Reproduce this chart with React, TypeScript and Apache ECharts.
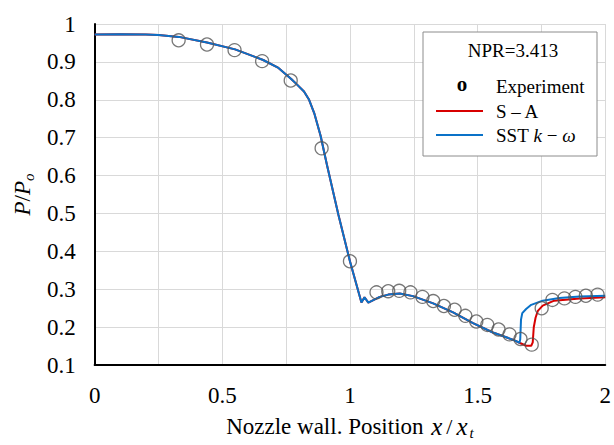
import React, { useEffect, useRef } from "react";
import * as echarts from "echarts";

// Experimental data (circles)
const expX = [0.329, 0.44, 0.548, 0.656, 0.768, 0.889, 1.0, 1.104, 1.15, 1.193, 1.237, 1.284, 1.326, 1.368, 1.41, 1.452, 1.495, 1.538, 1.582, 1.625, 1.668, 1.712, 1.751, 1.793, 1.84, 1.883, 1.924, 1.97];
const expY = [0.957, 0.946, 0.931, 0.902, 0.851, 0.672, 0.374, 0.292, 0.295, 0.296, 0.292, 0.28, 0.269, 0.256, 0.246, 0.23, 0.215, 0.206, 0.194, 0.181, 0.169, 0.154, 0.25, 0.272, 0.276, 0.28, 0.283, 0.286];

// Shared part of both simulations
const commonX = [0, 0.1, 0.2, 0.25, 0.33, 0.44, 0.55, 0.66, 0.72, 0.77, 0.79, 0.82, 0.84, 0.86, 0.885, 0.91, 0.955, 1.0, 1.045, 1.057, 1.072, 1.117, 1.15, 1.195, 1.247, 1.326, 1.404, 1.482, 1.56, 1.638, 1.664];
const commonY = [0.972, 0.973, 0.972, 0.971, 0.966, 0.951, 0.933, 0.905, 0.884, 0.855, 0.842, 0.822, 0.8, 0.765, 0.705, 0.628, 0.496, 0.374, 0.265, 0.279, 0.265, 0.28, 0.286, 0.289, 0.282, 0.263, 0.239, 0.211, 0.186, 0.167, 0.159];

// S-A tail
const saTailX = [1.69, 1.71, 1.716, 1.72, 1.727, 1.736, 1.755, 1.8, 1.9, 2.0];
const saTailY = [0.151, 0.151, 0.16, 0.2, 0.225, 0.243, 0.257, 0.27, 0.276, 0.279];

// SST k-omega tail
const sstTailX = [1.667, 1.67, 1.675, 1.69, 1.71, 1.755, 1.82, 1.9, 2.0];
const sstTailY = [0.168, 0.22, 0.237, 0.248, 0.259, 0.27, 0.277, 0.281, 0.283];

const xTicks = ["0", "0.5", "1", "1.5", "2"];

const FONT = "Liberation Serif";

function zip(xs: number[], ys: number[]) {
  return xs.map((x, i) => [x, ys[i]]);
}

export default function App() {
  const ref = useRef<HTMLDivElement>(null);
  useEffect(() => {
    if (!ref.current) return;
    const chart = echarts.init(ref.current, undefined, { renderer: "svg" });
    const common = zip(commonX, commonY);
    const sa = common.concat(zip(saTailX, saTailY));
    const sst = common.concat(zip(sstTailX, sstTailY));
    const exp = zip(expX, expY);
    chart.setOption({
      animation: false,
      backgroundColor: "#fff",
      textStyle: { fontFamily: FONT },
      grid: { left: 94, right: 8, top: 24, bottom: 76, containLabel: false },
      xAxis: {
        type: "value",
        min: 0,
        max: 2,
        interval: 0.25,
        axisLine: { show: true, lineStyle: { color: "#000", width: 2 } },
        axisTick: { show: false },
        splitLine: { show: true, lineStyle: { color: "#d9d9d9", width: 1 } },
        axisLabel: {
          color: "#000",
          fontSize: 23,
          fontFamily: FONT,
          margin: 19,
          formatter: (v: number) => {
            const k = Math.round(v * 2);
            return Math.abs(v * 2 - k) < 1e-6 ? xTicks[k] : "";
          },
        },
        name: "Nozzle wall. Position {i|x}{n|/}{i|x}{s|t}",
        nameLocation: "middle",
        nameGap: 42,
        nameTextStyle: {
          color: "#000",
          fontSize: 23,
          fontFamily: FONT,
          lineHeight: 28,
          rich: {
            i: { fontSize: 25, fontStyle: "italic", fontFamily: FONT, color: "#000", lineHeight: 28, padding: [0, 2, 0, 2] },
            n: { fontSize: 22, fontFamily: FONT, color: "#000", lineHeight: 28, padding: [0, 2, 0, 2] },
            s: { fontSize: 15, fontStyle: "italic", fontFamily: FONT, color: "#000", verticalAlign: "bottom", lineHeight: 14 },
          },
        },
      },
      yAxis: {
        type: "value",
        min: 0.1,
        max: 1,
        interval: 0.1,
        axisLine: { show: true, lineStyle: { color: "#000", width: 2 } },
        axisTick: { show: false },
        splitLine: { show: true, lineStyle: { color: "#d9d9d9", width: 1 } },
        axisLabel: {
          color: "#000",
          fontSize: 23,
          fontFamily: FONT,
          margin: 19,
          formatter: (v: number) => String(Math.round(v * 10) / 10),
        },
        name: "{i|P}{n|/}{i|P}{s|o}",
        nameLocation: "middle",
        nameRotate: 90,
        nameGap: 58,
        nameTextStyle: {
          color: "#000",
          fontSize: 22,
          fontFamily: FONT,
          lineHeight: 28,
          rich: {
            i: { fontSize: 23, fontStyle: "italic", fontFamily: FONT, color: "#000", lineHeight: 28 },
            n: { fontSize: 23, fontFamily: FONT, color: "#000", lineHeight: 28 },
            s: { fontSize: 15, fontStyle: "italic", fontFamily: FONT, color: "#000", verticalAlign: "bottom", lineHeight: 14 },
          },
        },
      },
      series: [
        {
          name: "S – A",
          type: "line",
          data: sa,
          showSymbol: false,
          symbol: "none",
          lineStyle: { color: "#D80000", width: 2 },
          z: 2,
        },
        {
          name: "SST k − ω",
          type: "line",
          data: sst,
          showSymbol: false,
          symbol: "none",
          lineStyle: { color: "#0A72C8", width: 2 },
          z: 3,
        },
        {
          name: "Experiment",
          type: "scatter",
          data: exp,
          symbol: "circle",
          symbolSize: 13,
          itemStyle: { color: "rgba(0,0,0,0)", borderColor: "#555", borderWidth: 1.3 },
          z: 4,
        },
      ],
      graphic: [
        {
          type: "rect",
          shape: { x: 423, y: 32, width: 174, height: 124 },
          style: { fill: "#fff", stroke: "#8c8c8c", lineWidth: 1 },
          z: 10,
        },
        {
          type: "text",
          x: 513,
          y: 50,
          style: { text: "NPR=3.413", fontSize: 19, fontFamily: FONT, fill: "#000", align: "center", verticalAlign: "middle" },
          z: 11,
        },
        {
          type: "text",
          x: 462,
          y: 84,
          style: { text: "o", fontSize: 21, fontWeight: "bold", fontFamily: FONT, fill: "#000", align: "center", verticalAlign: "middle" },
          z: 11,
        },
        {
          type: "text",
          x: 496,
          y: 86,
          style: { text: "Experiment", fontSize: 19, fontFamily: FONT, fill: "#000", align: "left", verticalAlign: "middle" },
          z: 11,
        },
        {
          type: "line",
          shape: { x1: 436, y1: 111, x2: 483, y2: 111 },
          style: { stroke: "#D80000", lineWidth: 2 },
          z: 11,
        },
        {
          type: "text",
          x: 496,
          y: 111,
          style: { text: "S – A", fontSize: 19, fontFamily: FONT, fill: "#000", align: "left", verticalAlign: "middle" },
          z: 11,
        },
        {
          type: "line",
          shape: { x1: 436, y1: 135, x2: 483, y2: 135 },
          style: { stroke: "#0A72C8", lineWidth: 2 },
          z: 11,
        },
        {
          type: "text",
          x: 496,
          y: 135,
          style: {
            text: "{n|SST }{i|k}{n| − }{i|ω}",
            fontSize: 19,
            fontFamily: FONT,
            fill: "#000",
            align: "left",
            verticalAlign: "middle",
            rich: {
              n: { fontSize: 19, fontFamily: FONT, fill: "#000" },
              i: { fontSize: 19, fontFamily: FONT, fontStyle: "italic", fill: "#000" },
            },
          },
          z: 11,
        },
      ],
    });
    return () => chart.dispose();
  }, []);
  return <div ref={ref} style={{ width: 614, height: 445, position: "absolute", left: 0, top: 0 }} />;
}
